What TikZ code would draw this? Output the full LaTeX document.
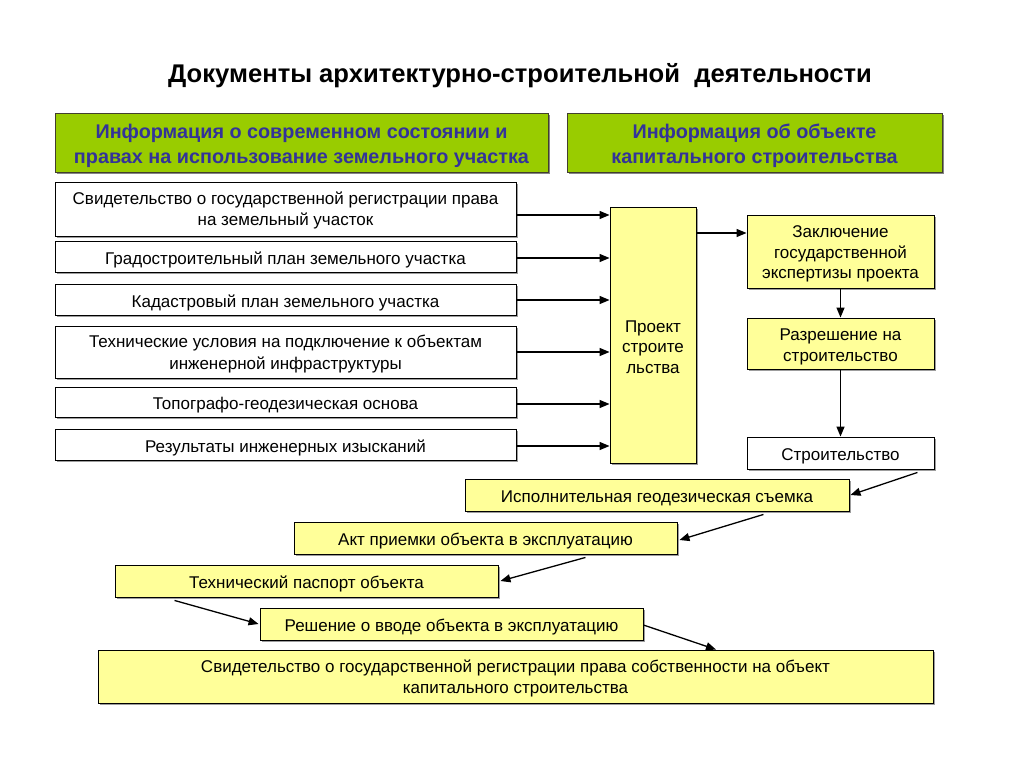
\documentclass[tikz,border=0pt]{standalone}
\usepackage{fontspec}
\setmainfont{Liberation Sans}
\usetikzlibrary{arrows.meta,shadows,calc}
\definecolor{hdrgreen}{HTML}{99CC00}
\definecolor{hdrblue}{HTML}{333399}
\definecolor{boxyellow}{HTML}{FFFF99}
\tikzset{
  box/.style={draw=black, line width=0.9pt, inner sep=0pt, align=center,
    font=\fontsize{17}{21.5}\selectfont, execute at begin node={\rule{0pt}{19pt}},
    drop shadow={shadow xshift=1.5pt, shadow yshift=-1.5pt, fill=black!55, opacity=0.7}},
  whitebox/.style={box, fill=white},
  yelbox/.style={box, fill=boxyellow},
  hdr/.style={draw=black!70!olive, line width=1pt, fill=hdrgreen, inner sep=0pt, align=center,
    text=hdrblue, font=\fontsize{19.8}{24.5}\selectfont\bfseries,
    drop shadow={shadow xshift=1.5pt, shadow yshift=-1.5pt, fill=black!60, opacity=0.8}},
  arr/.style={-{Triangle[length=10pt,width=8pt]}, line width=1.3pt, black},
  sz/.style 2 args={minimum width=#1, minimum height=#2}
}
\begin{document}
\begin{tikzpicture}[x=1pt,y=-1pt]
\useasboundingbox (0,0) rectangle (1024,768);
\node[font=\fontsize{25.6}{30}\selectfont\bfseries] (title) at (520,76) {Документы архитектурно-строительной\ \ деятельности};

\node[hdr, sz={493}{59}] (h1) at (301.5,142.5) {\rule{0pt}{21pt}Информация о современном состоянии и\\правах на использование земельного участка};
\node[hdr, sz={375}{59}] (h2) at (754.5,142.5) {\rule{0pt}{21pt}Информация об объекте\\капитального строительства};

\node[whitebox, sz={461}{54}] (b1) at (285.5,209) {\rule{0pt}{16pt}Свидетельство о государственной регистрации права\\на земельный участок};
\node[whitebox, sz={461}{31}] (b2) at (285.5,257) {Градостроительный план земельного участка};
\node[whitebox, sz={461}{31}] (b3) at (285.5,300) {Кадастровый план земельного участка};
\node[whitebox, sz={461}{52}] (b4) at (285.5,352) {\rule{0pt}{17pt}Технические условия на подключение к объектам\\инженерной инфраструктуры};
\node[whitebox, sz={461}{30}] (b5) at (285.5,402) {Топографо-геодезическая основа};
\node[whitebox, sz={461}{31}] (b6) at (285.5,445) {Результаты инженерных изысканий};

\node[yelbox, sz={86}{256}, font=\fontsize{17}{20.5}\selectfont] (proj) at (653,335) {\rule{0pt}{36pt}Проект\\строите\\льства};

\node[yelbox, sz={187}{73}, font=\fontsize{17}{20.5}\selectfont] (zakl) at (840.5,251.5) {\rule{0pt}{17pt}Заключение\\государственной\\экспертизы проекта};
\node[yelbox, sz={187}{51}] (razr) at (840.5,343.5) {\rule{0pt}{19pt}Разрешение на\\строительство};
\node[whitebox, sz={187}{32}] (stroit) at (840.5,453) {Строительство};

\node[yelbox, sz={384}{32}] (ispoln) at (657,495) {Исполнительная геодезическая съемка};
\node[yelbox, sz={383}{32}] (akt) at (485.5,538) {Акт приемки объекта в эксплуатацию};
\node[yelbox, sz={383}{32}] (tech) at (306.5,581) {Технический паспорт объекта};
\node[yelbox, sz={383}{32}] (resh) at (451.5,624) {Решение о вводе объекта в эксплуатацию};
\node[yelbox, sz={835}{53}] (svid) at (515.5,676.5) {\rule{0pt}{17pt}Свидетельство о государственной регистрации права собственности на объект\\капитального строительства};

% inputs to project
\draw[arr] ([yshift=-6pt]b1.east) -- ([yshift=-6pt]b1.east -| proj.west);
\draw[arr] ([yshift=-1pt]b2.east) -- ([yshift=-1pt]b2.east -| proj.west);
\draw[arr] (b3.east) -- (b3.east -| proj.west);
\draw[arr] (b4.east) -- (b4.east -| proj.west);
\draw[arr] ([yshift=-2pt]b5.east) -- ([yshift=-2pt]b5.east -| proj.west);
\draw[arr] ([yshift=-1pt]b6.east) -- ([yshift=-1pt]b6.east -| proj.west);

% right column
\coordinate (zin) at ([yshift=18.5pt]zakl.west);
\draw[arr] (proj.east |- zin) -- (zin);
\draw[arr] (zakl.south) -- (razr.north);
\draw[arr] (razr.south) -- (stroit.north);

% chain
\coordinate (s1) at ([xshift=-17pt,yshift=-3pt]stroit.south east);
\draw[arr] (s1) -- ([xshift=1pt]ispoln.east);
\coordinate (s2) at ([xshift=-86pt,yshift=-3pt]ispoln.south east);
\draw[arr] (s2) -- ([xshift=2pt,yshift=-2pt]akt.east);
\coordinate (s3) at ([xshift=-92pt,yshift=-3pt]akt.south east);
\draw[arr] (s3) -- ([xshift=2pt]tech.east);
\coordinate (s4) at ([xshift=60pt,yshift=-3pt]tech.south west);
\draw[arr] (s4) -- ([xshift=-1pt]resh.west);
\coordinate (s5) at ([yshift=-1pt]resh.east);
\draw[arr] (s5) -- ([xshift=200.5pt]svid.north);
\end{tikzpicture}
\end{document}
